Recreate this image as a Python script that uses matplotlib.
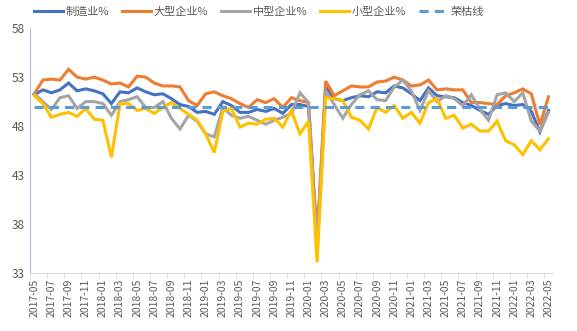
import numpy as np
import pandas as pd
import matplotlib
matplotlib.use('Agg')
import matplotlib.pyplot as plt

plt.rcParams['font.family'] = ['Noto Sans CJK SC', 'DejaVu Sans']

# monthly PMI, 2017-05 .. 2022-05
months = pd.period_range('2017-05', '2022-05', freq='M').strftime('%Y-%m').tolist()

manufacturing = [51.2, 51.7, 51.4, 51.7, 52.4, 51.6, 51.8, 51.6,
                 51.3, 50.3, 51.5, 51.4, 51.9, 51.5, 51.2, 51.3, 50.8, 50.2, 50.0, 49.4,
                 49.5, 49.2, 50.5, 50.1, 49.4, 49.4, 49.7, 49.5, 49.8, 49.3, 50.2, 50.2,
                 50.0, 35.7, 52.0, 50.8, 50.6, 50.9, 51.1, 51.0, 51.5, 51.4, 52.1, 51.9,
                 51.3, 50.6, 51.9, 51.1, 51.0, 50.9, 50.4, 50.1, 49.6, 49.2, 50.1, 50.3,
                 50.1, 50.2, 49.5, 47.4, 49.6]
large = [51.3, 52.7, 52.8, 52.7, 53.8, 53.0, 52.8, 53.0,
         52.7, 52.3, 52.4, 52.0, 53.1, 53.0, 52.4, 52.1, 52.1, 52.0, 50.6, 50.1,
         51.3, 51.5, 51.1, 50.8, 50.3, 49.9, 50.7, 50.4, 50.8, 49.9, 50.9, 50.6,
         50.4, 36.6, 52.6, 51.1, 51.6, 52.1, 52.0, 52.0, 52.5, 52.6, 53.0, 52.7,
         52.1, 52.2, 52.7, 51.7, 51.8, 51.7, 51.7, 50.4, 50.4, 50.3, 50.2, 51.1,
         51.4, 51.8, 51.3, 48.1, 51.0]
medium = [51.3, 50.5, 49.7, 50.9, 51.1, 49.8, 50.5, 50.5,
          50.3, 49.1, 50.5, 50.7, 51.0, 49.9, 49.9, 50.5, 48.8, 47.7, 49.1, 48.5,
          47.2, 46.9, 49.9, 49.1, 48.8, 49.0, 48.6, 48.2, 48.6, 48.9, 49.3, 51.4,
          50.4, 35.5, 51.6, 50.2, 48.8, 50.2, 51.2, 51.6, 50.7, 50.6, 52.0, 52.7,
          51.6, 49.6, 51.6, 50.5, 51.1, 50.8, 50.1, 51.2, 49.7, 48.6, 51.2, 51.4,
          50.5, 51.4, 48.5, 47.5, 49.4]
small = [51.1, 50.3, 48.9, 49.2, 49.4, 49.0, 49.8, 48.7,
         48.6, 44.8, 50.3, 50.3, 49.6, 49.8, 49.3, 49.9, 50.4, 49.8, 49.2, 48.6,
         47.2, 45.3, 49.5, 49.8, 47.9, 48.3, 48.2, 48.7, 48.8, 47.9, 49.6, 47.2,
         48.5, 34.1, 50.9, 50.8, 50.6, 48.9, 48.6, 47.7, 49.9, 49.4,
         50.1, 48.8, 49.4, 48.3, 50.4, 50.8, 48.8, 49.1, 47.8, 48.2, 47.5, 47.5,
         48.5, 46.5, 46.1, 45.1, 46.5, 45.6, 46.7]
boom_bust = 50

series = [('制造业%', manufacturing, '#4472C4'),
          ('大型企业%', large, '#ED7D31'),
          ('中型企业%', medium, '#A5A5A5'),
          ('小型企业%', small, '#FFC000')]

fig = plt.figure(figsize=(5.77, 3.31), dpi=100)
ax = fig.add_axes([0.052, 0.175, 0.906, 0.740])

x = np.arange(len(months))
for name, vals, col in series:
    ax.plot(x, vals, color=col, lw=2.2, label=name, solid_joinstyle='miter')
ax.plot(x, [boom_bust] * len(x), color='#5B9BD5', lw=2.2, ls=(0, (3, 2)), label='荣枯线')

ax.set_xlim(-0.5, len(x) - 0.5)
ax.set_ylim(33, 58)
ax.set_yticks([33, 38, 43, 48, 53, 58])
ax.tick_params(axis='y', length=0, labelsize=8.5, labelcolor='#595959', pad=4)

ax.set_xticks(x[::2])
ax.set_xticklabels(months[::2], rotation=90, fontsize=7.5, color='#595959')
ax.set_xticks(np.arange(-0.5, len(x), 2), minor=True)
ax.tick_params(axis='x', which='major', length=0, pad=4)
ax.tick_params(axis='x', which='minor', length=4, color='#D9D9D9')

for s in ['top', 'right']:
    ax.spines[s].set_visible(False)
ax.spines['left'].set_color('#9DC3E6')
ax.spines['bottom'].set_color('#D9D9D9')

fig.legend(loc='upper center', bbox_to_anchor=(0.449, 1.01), ncol=5, frameon=False,
           fontsize=8, handlelength=2.6, columnspacing=1.1, handletextpad=0.3,
           labelcolor='#595959')

fig.savefig('out.png', dpi=100)
